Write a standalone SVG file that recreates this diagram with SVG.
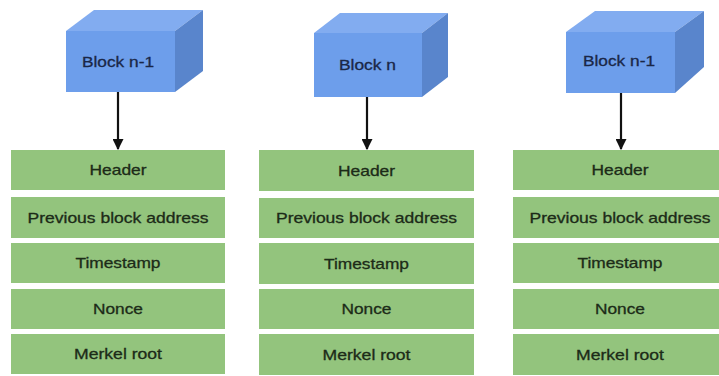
<svg xmlns="http://www.w3.org/2000/svg" width="719" height="376" viewBox="0 0 719 376">
<style>
.front{fill:#6d9eeb}
.top{fill:#82acf0}
.side{fill:#5985cc}
.row{fill:#93c47d}
.t{font-family:"Liberation Sans",Arial,sans-serif;font-size:14.5px;text-anchor:middle;fill:#1c2b18;stroke:#1c2b18;stroke-width:0.3}
.bt{font-family:"Liberation Sans",Arial,sans-serif;font-size:14.5px;text-anchor:middle;fill:#1a2747;stroke:#1a2747;stroke-width:0.3}
.conn{stroke:#111;stroke-width:2.2;fill:none}
</style>
<defs>
<marker id="ah" viewBox="0 0 10 10" refX="9" refY="5" markerWidth="5" markerHeight="5" orient="auto" markerUnits="strokeWidth">
<path d="M0,0 L10,5 L0,10 z" fill="#111"/>
</marker>
</defs>
<rect width="719" height="376" fill="#ffffff"/>

<g id="block1">
<polygon class="top" points="66,31 94,10 203,10 175,31"/>
<polygon class="side" points="175,31 203,10 203,71 175,92"/>
<rect class="front" x="66" y="31" width="109" height="61"/>
<text class="bt" x="118" y="67" textLength="72" lengthAdjust="spacingAndGlyphs">Block n-1</text>
</g>
<g id="block2">
<polygon class="top" points="314,33 340,13 448,13 422,33"/>
<polygon class="side" points="422,33 448,13 448,77 422,97"/>
<rect class="front" x="314" y="33" width="108" height="64"/>
<text class="bt" x="367.5" y="70" textLength="57" lengthAdjust="spacingAndGlyphs">Block n</text>
</g>
<g id="block3">
<polygon class="top" points="566,32 595,11 704,11 675,32"/>
<polygon class="side" points="675,32 704,11 704,67 675,93"/>
<rect class="front" x="566" y="32" width="109" height="61"/>
<text class="bt" x="619" y="66" textLength="72" lengthAdjust="spacingAndGlyphs">Block n-1</text>
</g>

<g id="fields1">
<rect class="row" x="11" y="150" width="214" height="40"/>
<rect class="row" x="11" y="197" width="214" height="41"/>
<rect class="row" x="11" y="243" width="214" height="40"/>
<rect class="row" x="11" y="289" width="214" height="40"/>
<rect class="row" x="11" y="334" width="214" height="40"/>
<text class="t" x="118" y="175" textLength="57" lengthAdjust="spacingAndGlyphs">Header</text>
<text class="t" x="118" y="222.5" textLength="181" lengthAdjust="spacingAndGlyphs">Previous block address</text>
<text class="t" x="118" y="268" textLength="85" lengthAdjust="spacingAndGlyphs">Timestamp</text>
<text class="t" x="118" y="314" textLength="50" lengthAdjust="spacingAndGlyphs">Nonce</text>
<text class="t" x="118" y="359" textLength="88" lengthAdjust="spacingAndGlyphs">Merkel root</text>
</g>
<g id="fields2">
<rect class="row" x="259" y="150" width="215" height="41"/>
<rect class="row" x="259" y="198" width="215" height="40"/>
<rect class="row" x="259" y="243" width="215" height="41"/>
<rect class="row" x="259" y="289" width="215" height="40"/>
<rect class="row" x="259" y="334" width="215" height="41"/>
<text class="t" x="366.5" y="175.5" textLength="57" lengthAdjust="spacingAndGlyphs">Header</text>
<text class="t" x="366.5" y="223" textLength="181" lengthAdjust="spacingAndGlyphs">Previous block address</text>
<text class="t" x="366.5" y="268.5" textLength="85" lengthAdjust="spacingAndGlyphs">Timestamp</text>
<text class="t" x="366.5" y="314" textLength="50" lengthAdjust="spacingAndGlyphs">Nonce</text>
<text class="t" x="366.5" y="359.5" textLength="88" lengthAdjust="spacingAndGlyphs">Merkel root</text>
</g>
<g id="fields3">
<rect class="row" x="513" y="150" width="214" height="40"/>
<rect class="row" x="513" y="197" width="214" height="41"/>
<rect class="row" x="513" y="243" width="214" height="40"/>
<rect class="row" x="513" y="289" width="214" height="40"/>
<rect class="row" x="513" y="334" width="214" height="41"/>
<text class="t" x="620" y="175" textLength="57" lengthAdjust="spacingAndGlyphs">Header</text>
<text class="t" x="620" y="222.5" textLength="181" lengthAdjust="spacingAndGlyphs">Previous block address</text>
<text class="t" x="620" y="268" textLength="85" lengthAdjust="spacingAndGlyphs">Timestamp</text>
<text class="t" x="620" y="314" textLength="50" lengthAdjust="spacingAndGlyphs">Nonce</text>
<text class="t" x="620" y="359.5" textLength="88" lengthAdjust="spacingAndGlyphs">Merkel root</text>
</g>

<g id="connectors">
<line class="conn" x1="118" y1="92" x2="118" y2="149" marker-end="url(#ah)"/>
<line class="conn" x1="367" y1="97" x2="367" y2="149" marker-end="url(#ah)"/>
<line class="conn" x1="621" y1="93" x2="621" y2="149" marker-end="url(#ah)"/>
</g>
</svg>
